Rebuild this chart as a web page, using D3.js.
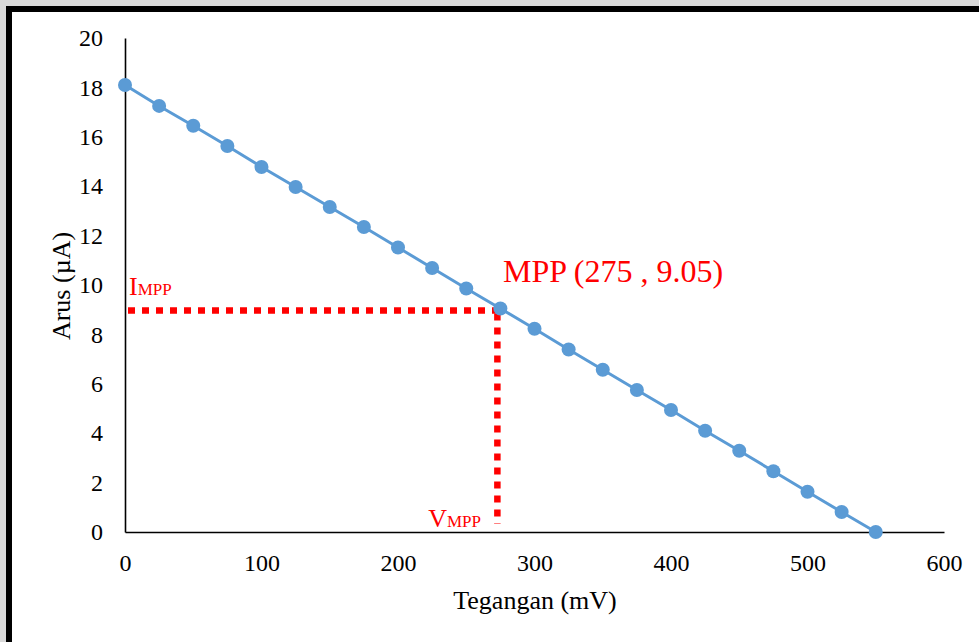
<!DOCTYPE html>
<html>
<head>
<meta charset="utf-8">
<script src="https://cdn.jsdelivr.net/npm/d3@7"></script>
<style>
  body { margin: 0; background: #d9d9d9; }
  svg { display: block; }
</style>
</head>
<body>
<svg id="chart" width="979" height="642"></svg>
<script>
// tegangan (mV) dan arus (uA)
var voltage = [0, 25, 50, 75, 100, 125, 150, 175, 200, 225, 250, 275, 300,
               325, 350, 375, 400, 425, 450, 475, 500, 525, 550];
var current = [18.1, 17.25, 16.45, 15.63, 14.78, 13.97, 13.16, 12.35, 11.52, 10.69, 9.86, 9.05, 8.23,
               7.39, 6.57, 5.75, 4.94, 4.1, 3.29, 2.46, 1.63, 0.81, 0];
var xTicks = [0, 100, 200, 300, 400, 500, 600];
var yTicks = [0, 2, 4, 6, 8, 10, 12, 14, 16, 18, 20];
var mppV = 275, mppI = 9.05;

var data = voltage.map(function(v, i) { return {v: v, i: current[i]}; });

var svg = d3.select("#chart");
var font = "'Liberation Serif', 'Times New Roman', serif";

// frame
svg.append("rect").attr("x", 6).attr("y", 6).attr("width", 973).attr("height", 636).attr("fill", "#000");
svg.append("rect").attr("x", 12).attr("y", 12).attr("width", 967).attr("height", 630).attr("fill", "#fff");

var x = d3.scaleLinear().domain([0, 600]).range([125, 944]);
var y = d3.scaleLinear().domain([0, 20]).range([532, 38]);

var xAxis = d3.axisBottom(x).tickValues(xTicks).tickSize(0).tickPadding(22);
var yAxis = d3.axisLeft(y).tickValues(yTicks).tickSize(0).tickPadding(22);

var gx = svg.append("g").attr("transform", "translate(0," + y(0) + ")").call(xAxis);
var gy = svg.append("g").attr("transform", "translate(" + x(0) + ",0)").call(yAxis);
[gx, gy].forEach(function(g) {
  g.select(".domain").attr("stroke", "#000").attr("stroke-width", 1.6);
  g.selectAll("text").attr("fill", "#000").style("font-family", font).style("font-size", "24px");
});
gx.selectAll("text").attr("dy", "0.71em");

svg.append("text")
  .attr("x", 535).attr("y", 609)
  .attr("text-anchor", "middle")
  .style("font-family", font).style("font-size", "26px")
  .text("Tegangan (mV)");

svg.append("text")
  .attr("transform", "translate(70,286) rotate(-90)")
  .attr("text-anchor", "middle")
  .style("font-family", font).style("font-size", "26px")
  .text("Arus (µA)");

// garis MPP
var red = "#ff0000";
svg.append("line")
  .attr("x1", 128).attr("x2", x(mppV) - 3)
  .attr("y1", y(mppI) + 2).attr("y2", y(mppI) + 2)
  .attr("stroke", red).attr("stroke-width", 6.5).attr("stroke-dasharray", "7,7");
svg.append("line")
  .attr("x1", x(mppV) - 3).attr("x2", x(mppV) - 3)
  .attr("y1", y(mppI) + 5).attr("y2", y(0) - 8)
  .attr("stroke", red).attr("stroke-width", 6.5).attr("stroke-dasharray", "7,7");

// kurva
var line = d3.line().x(function(d) { return x(d.v); }).y(function(d) { return y(d.i); });
svg.append("path").datum(data)
  .attr("d", line).attr("fill", "none")
  .attr("stroke", "#5b9bd5").attr("stroke-width", 3);
svg.selectAll("circle.pt").data(data).enter().append("circle")
  .attr("class", "pt")
  .attr("cx", function(d) { return x(d.v); })
  .attr("cy", function(d) { return y(d.i); })
  .attr("r", 7).attr("fill", "#5b9bd5");

// label
var t1 = svg.append("text").attr("x", 129).attr("y", 295)
  .attr("fill", red).style("font-family", font).style("font-size", "26px");
t1.append("tspan").text("I");
t1.append("tspan").style("font-size", "17px").text("MPP");

var t2 = svg.append("text").attr("x", 481).attr("y", 527)
  .attr("text-anchor", "end")
  .attr("fill", red).style("font-family", font).style("font-size", "26px");
t2.append("tspan").text("V");
t2.append("tspan").style("font-size", "17px").text("MPP");

svg.append("text").attr("x", 503).attr("y", 282)
  .attr("fill", red).style("font-family", font).style("font-size", "32px")
  .text("MPP (" + mppV + " , " + mppI + ")");
</script>
</body>
</html>
